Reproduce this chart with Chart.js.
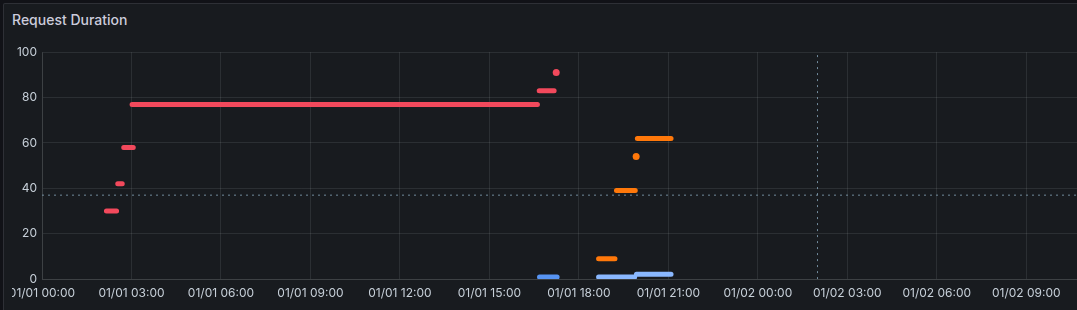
<!DOCTYPE html>
<html>
<head>
<meta charset="utf-8">
<script src="https://cdn.jsdelivr.net/npm/chart.js@4/dist/chart.umd.min.js"></script>
<style>
  html, body { margin: 0; padding: 0; background: #111217; width: 1077px; height: 310px; overflow: hidden; }
  .panel {
    position: absolute; left: 3px; top: 3px; width: 1100px; height: 330px;
    background: #181b1f; border: 1px solid rgba(204,204,220,0.12); border-radius: 2px;
  }
  .title {
    position: absolute; left: 12px; top: 11px;
    font: 500 14px Inter, "Noto Sans", sans-serif; color: #ccccdc;
  }
  .canvas-wrap { position: absolute; left: 12px; top: 40px; width: 1069px; height: 270px; }
</style>
</head>
<body>
<div class="panel"></div>
<div class="title">Request Duration</div>
<div class="canvas-wrap"><canvas id="chart"></canvas></div>
<script>
// x values are hours since 01/01 00:00
const X_MAX = 34.7;
const tickHours = [0, 3, 6, 9, 12, 15, 18, 21, 24, 27, 30, 33];
const tickLabels = ['01/01 00:00', '01/01 03:00', '01/01 06:00', '01/01 09:00', '01/01 12:00', '01/01 15:00',
  '01/01 18:00', '01/01 21:00', '01/02 00:00', '01/02 03:00', '01/02 06:00', '01/02 09:00'];
const yTicks = [0, 20, 40, 60, 80, 100];

// runs of points, drawn as thick bars: start hour, end hour, value
const redStart = [2.16, 2.54, 2.74, 3.02, 16.67];
const redEnd = [2.50, 2.69, 3.06, 16.61, 17.17];
const redValue = [30, 42, 58, 77, 83];
const redDotX = [17.24];
const redDotY = [91];

const orangeStart = [18.66, 19.26, 19.96];
const orangeEnd = [19.21, 19.89, 21.09];
const orangeValue = [9, 39, 62];
const orangeDotX = [19.92];
const orangeDotY = [54];

const blueStart = [16.68];
const blueEnd = [17.27];
const blueValue = [0.9];

const lightBlueStart = [18.66, 19.93];
const lightBlueEnd = [19.87, 21.09];
const lightBlueValue = [0.9, 2.1];

const thresholdY = 37;
const markerX = 26;

const RED = '#F2495C', ORANGE = '#FF780A', BLUE = '#5794F2', LIGHT_BLUE = '#8AB8FF';
const GRID = 'rgba(240,250,255,0.09)';
const TEXT = '#c7d0d9';
const DOTTED = 'rgba(130,160,180,0.85)';

// each run becomes two points plus a null so the line breaks between runs
function runs(starts, ends, values) {
  const pts = [];
  starts.forEach((s, i) => {
    pts.push({ x: s, y: values[i] }, { x: ends[i], y: values[i] }, { x: (ends[i] + (starts[i + 1] ?? ends[i])) / 2, y: null });
  });
  return pts;
}
const runSet = (data, color) => ({
  data, borderColor: color, backgroundColor: color, borderWidth: 5,
  borderCapStyle: 'round', pointRadius: 0, spanGaps: false, showLine: true,
});
const dotSet = (xs, ys, color) => ({
  data: xs.map((x, i) => ({ x, y: ys[i] })), showLine: false,
  pointRadius: 3.5, pointBackgroundColor: color, pointBorderWidth: 0,
});

Chart.defaults.font.family = 'Inter, "Noto Sans", sans-serif';
Chart.defaults.font.size = 12;
Chart.defaults.color = TEXT;

new Chart(document.getElementById('chart'), {
  type: 'scatter',
  data: {
    datasets: [
      { data: [{ x: 0, y: thresholdY }, { x: X_MAX, y: thresholdY }], showLine: true, borderColor: DOTTED,
        borderWidth: 1, borderDash: [2, 4], pointRadius: 0 },
      { data: [{ x: markerX, y: 0 }, { x: markerX, y: 100 }], showLine: true, borderColor: DOTTED,
        borderWidth: 1, borderDash: [2, 4], pointRadius: 0 },
      runSet(runs(redStart, redEnd, redValue), RED),
      dotSet(redDotX, redDotY, RED),
      runSet(runs(orangeStart, orangeEnd, orangeValue), ORANGE),
      dotSet(orangeDotX, orangeDotY, ORANGE),
      runSet(runs(blueStart, blueEnd, blueValue), BLUE),
      runSet(runs(lightBlueStart, lightBlueEnd, lightBlueValue), LIGHT_BLUE),
    ],
  },
  options: {
    responsive: true,
    maintainAspectRatio: false,
    animation: false,
    layout: { padding: { top: 6, right: 0, bottom: 2.5, left: 0 } },
    plugins: { legend: { display: false }, tooltip: { enabled: false } },
    scales: {
      x: {
        type: 'linear', min: 0, max: X_MAX,
        afterBuildTicks: (s) => { s.ticks = tickHours.map((v) => ({ value: v })); },
        afterFit: (s) => { s.paddingLeft = 0; s.paddingRight = 0; },
        ticks: {
          autoSkip: false, maxRotation: 0, padding: 7, color: TEXT,
          callback: (v) => tickLabels[tickHours.indexOf(v)] ?? '',
        },
        grid: { color: GRID, drawTicks: false },
        border: { color: GRID },
      },
      y: {
        min: 0, max: 100,
        afterBuildTicks: (s) => { s.ticks = yTicks.map((v) => ({ value: v })); },
        afterFit: (s) => { s.width = 30; },
        ticks: { padding: 5, color: TEXT },
        grid: { color: GRID, drawTicks: false },
        border: { color: GRID },
      },
    },
  },
});
</script>
</body>
</html>
